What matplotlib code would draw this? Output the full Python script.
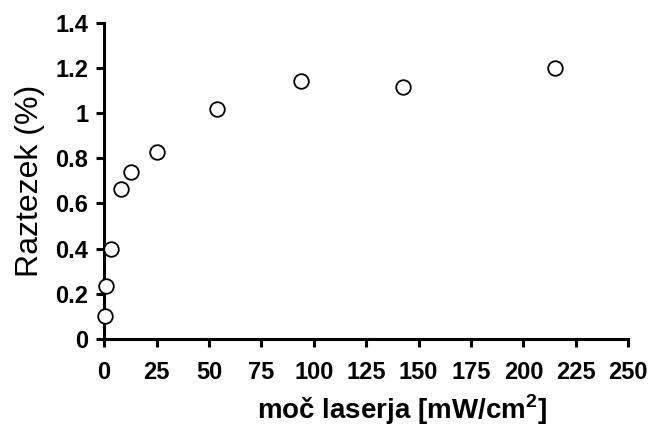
import matplotlib
matplotlib.use("Agg")
import matplotlib.pyplot as plt

power = [0.3, 0.8, 3.5, 7.8, 12.7, 25, 53.6, 93.8, 142.5, 215]
elongation = [0.10, 0.235, 0.40, 0.663, 0.738, 0.828, 1.018, 1.143, 1.115, 1.20]
xticks = [0, 25, 50, 75, 100, 125, 150, 175, 200, 225, 250]
yticks = [0, 0.2, 0.4, 0.6, 0.8, 1.0, 1.2, 1.4]
ytick_labels = ["0", "0.2", "0.4", "0.6", "0.8", "1", "1.2", "1.4"]

plt.rcParams['font.family'] = ['Liberation Sans', 'DejaVu Sans']
plt.rcParams['mathtext.fontset'] = 'custom'
plt.rcParams['mathtext.bf'] = 'Liberation Sans:bold'
plt.rcParams['mathtext.rm'] = 'Liberation Sans'

fig = plt.figure(figsize=(6.51, 4.26), dpi=100)
ax = fig.add_axes([0.160, 0.204, 0.805, 0.743])
ax.plot(power, elongation, linestyle='none', marker='o', markersize=10.5,
        markerfacecolor='white', markeredgecolor='black', markeredgewidth=1.3,
        clip_on=False, zorder=3)
ax.set_xlim(0, 250)
ax.set_ylim(0, 1.4)
ax.set_xticks(xticks)
ax.set_xticklabels([str(t) for t in xticks])
ax.set_yticks(yticks)
ax.set_yticklabels(ytick_labels)
for s in ['top', 'right']:
    ax.spines[s].set_visible(False)
for s in ['left', 'bottom']:
    ax.spines[s].set_linewidth(2.2)
ax.tick_params(direction='out', length=5.5, width=2.2, labelsize=17)
ax.tick_params(axis='x', pad=10)
ax.tick_params(axis='y', pad=6)
for lab in ax.get_xticklabels() + ax.get_yticklabels():
    lab.set_fontweight('bold')
ax.set_ylabel("Raztezek (%)", fontsize=23, labelpad=7)
ax.set_xlabel("moč laserja [mW/cm$^\\mathbf{2}$]", fontsize=20, fontweight='bold')
ax.xaxis.set_label_coords(0.569, -0.168)
fig.savefig("out.png", dpi=100)
